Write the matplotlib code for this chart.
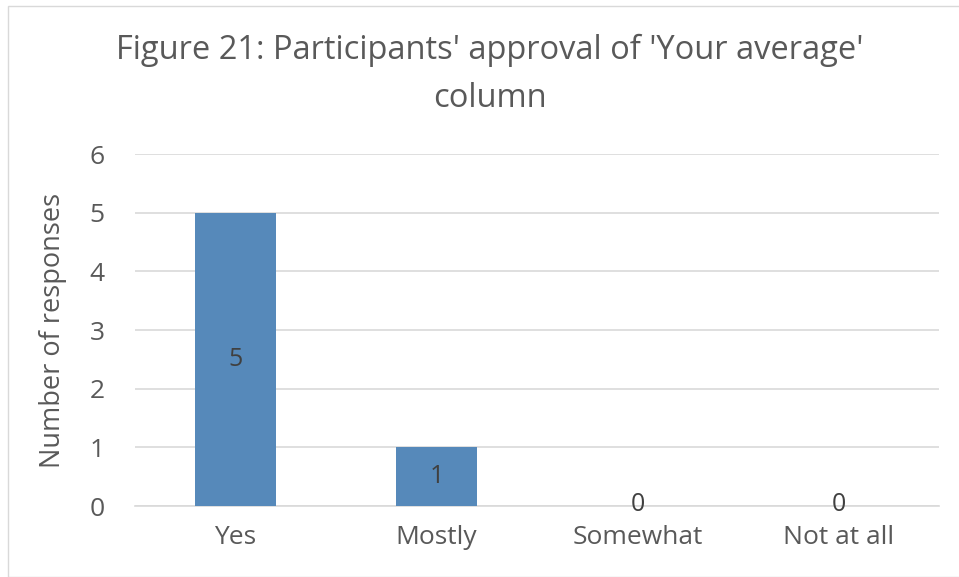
import matplotlib.pyplot as plt
from matplotlib.patches import Rectangle

categories = ["Yes", "Mostly", "Somewhat", "Not at all"]
responses = [5, 1, 0, 0]
title = "Figure 21: Participants' approval of 'Your average'\ncolumn"
ylabel = "Number of responses"

bar_color = "#5689BA"
text_color = "#595959"
grid_color = "#D9D9D9"

plt.rcParams["font.family"] = ["Open Sans", "DejaVu Sans"]

fig = plt.figure(figsize=(9.59, 5.77), dpi=100)
ax = fig.add_axes([135 / 959, (577 - 506) / 577, (939 - 135) / 959, (506 - 154) / 577])

x = range(len(categories))
ax.bar(x, responses, width=0.4, color=bar_color, zorder=3)

for xi, v in zip(x, responses):
    if v > 0:
        ax.text(xi, v / 2, str(v), ha="center", va="center", fontsize=18, color="#404040", zorder=4)
    else:
        ax.text(xi, 0.03, str(v), ha="center", va="center", fontsize=18, color="#404040", zorder=4)

ax.set_xlim(-0.5, 3.5)
ax.set_ylim(0, 6)
ax.set_yticks(range(7))
ax.set_xticks(list(x))
ax.set_xticklabels(categories)
ax.tick_params(axis="both", length=0, labelsize=19, colors=text_color)
ax.tick_params(axis="y", pad=22)
ax.tick_params(axis="x", pad=14)
ax.yaxis.grid(True, color=grid_color, linewidth=1.2, zorder=0)
for s in ["top", "right", "left"]:
    ax.spines[s].set_visible(False)
ax.spines["bottom"].set_color(grid_color)
ax.spines["bottom"].set_linewidth(1.2)

ax.set_ylabel(ylabel, fontsize=19.5, color=text_color, labelpad=16)
fig.text(490 / 959, 1 - 74 / 577, title, ha="center", va="center", fontsize=23.5,
         color=text_color, linespacing=1.6)

fig.patches.append(Rectangle((8 / 959, 0), 1.0, 1 - 6 / 577, transform=fig.transFigure,
                             fill=False, edgecolor="#D9D9D9", linewidth=1))

fig.savefig("out.png", dpi=100)
